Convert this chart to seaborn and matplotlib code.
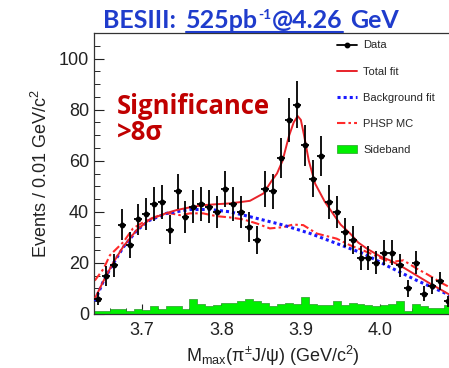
import numpy as np
import pandas as pd
import matplotlib
matplotlib.use("Agg")
import matplotlib.pyplot as plt
import seaborn as sns
from matplotlib.lines import Line2D
from matplotlib.patches import Patch
from matplotlib.ticker import MultipleLocator

# ---------------- data ----------------
bin_lo, bin_w, n_bins = 3.64, 0.01, 45
data_counts = [6, 15, 19, 35, 27, 37, 39, 43, 44, 33, 48, 38, 42, 43, 42, 40, 49, 43,
               40, 34, 29, 49, 48, 61, 76, 82, 66, 53, 62, 44, 40, 32, 29, 22, 22, 20,
               24, 24, 19, 10, 20, 8, 11, 13, 5]
sideband = [1, 1, 2, 2, 1, 2, 1.5, 3, 2, 3, 3, 2, 6, 4, 3, 3.5, 4.5, 4.5, 5, 6, 5, 4.5,
            3, 4, 4.5, 4, 6.5, 4, 3.5, 3.5, 5, 3.5, 4.5, 4, 3.5, 3, 3.5, 4, 5, 1, 4, 3,
            2.5, 2.5, 3.5]

total_x = [3.641, 3.652, 3.664, 3.677, 3.694, 3.710, 3.731, 3.744, 3.761, 3.777, 3.795,
           3.811, 3.836, 3.853, 3.863, 3.870, 3.877, 3.885, 3.891, 3.896, 3.900, 3.904,
           3.910, 3.918, 3.924, 3.930, 3.941, 3.950, 3.962, 3.972, 3.983, 4.000, 4.012,
           4.030, 4.046, 4.062, 4.079, 4.090]
total_y = [6, 13, 20, 26.5, 33, 37, 39.5, 40.7, 41.8, 42.6, 43, 43.3, 44.3, 47.2, 52,
           55, 60, 69.6, 75, 77.5, 76, 70, 60, 51, 47.5, 44, 39, 35, 31.5, 28, 25.6,
           22.5, 21, 18, 15, 12, 9, 7]

bkg_x = [3.641, 3.652, 3.664, 3.677, 3.694, 3.710, 3.731, 3.761, 3.786, 3.811, 3.845,
         3.878, 3.912, 3.945, 3.979, 4.012, 4.046, 4.079, 4.090]
bkg_y = [5, 13, 19.7, 26.2, 32.8, 36.7, 39.4, 40.9, 40.9, 40, 37.4, 34.8, 31.5, 27.6,
         23.6, 18.3, 13.1, 8.5, 7]

phsp_x = [3.641, 3.652, 3.660, 3.677, 3.689, 3.706, 3.723, 3.736, 3.748, 3.761, 3.777,
          3.794, 3.811, 3.828, 3.845, 3.861, 3.878, 3.890, 3.903, 3.920, 3.945, 3.962,
          3.983, 4.012, 4.029, 4.046, 4.058, 4.079, 4.090]
phsp_y = [13.1, 17.7, 23, 28.2, 33.5, 36.7, 38.7, 39.4, 38.7, 39.4, 39.4, 38.3, 37.8,
          37, 35.4, 33.5, 34, 35, 34.8, 31.5, 29.5, 26.9, 24.3, 20.3, 21, 17.7, 15.7,
          11.8, 10]

x_ticks = [3.7, 3.8, 3.9, 4.0]
y_ticks = [0, 20, 40, 60, 80, 100]

# ---------------- figure ----------------
sns.set_theme(style="ticks")
plt.rcParams["font.family"] = ["Liberation Sans", "DejaVu Sans"]
plt.rcParams["mathtext.fontset"] = "custom"
plt.rcParams["mathtext.rm"] = "Liberation Sans"
plt.rcParams["mathtext.it"] = "Liberation Sans:italic"

fig = plt.figure(figsize=(4.49, 3.68), dpi=100)
ax = fig.add_axes([94 / 449, 1 - 314 / 368, 358 / 449, 281 / 368])

centers = bin_lo + bin_w * (np.arange(n_bins) + 0.5)
df = pd.DataFrame({"m": centers, "n": data_counts, "sb": sideband})

sns.histplot(data=df, x="m", weights="sb", binwidth=bin_w,
             binrange=(bin_lo, bin_lo + bin_w * n_bins), element="step", fill=True,
             color="#00f000", alpha=1.0, edgecolor="#2a9a2a", linewidth=0.5, ax=ax,
             zorder=1)

sns.lineplot(x=phsp_x, y=phsp_y, ax=ax, color="#ff2a2a", lw=1.5,
             linestyle=(0, (4, 1.5, 1.2, 1.5)), sort=False, estimator=None, zorder=2)
sns.lineplot(x=bkg_x, y=bkg_y, ax=ax, color="#1a1aff", lw=2.2,
             linestyle=(0, (1, 1)), sort=False, estimator=None, zorder=3)
sns.lineplot(x=total_x, y=total_y, ax=ax, color="#e8232a", lw=1.4,
             sort=False, estimator=None, zorder=4)

ax.errorbar(df["m"], df["n"], xerr=bin_w / 2, yerr=np.sqrt(df["n"]), fmt="o",
            ms=3.2, color="black", elinewidth=1.3, capsize=0, zorder=5)

ax.set_xlim(3.64, 4.09)
ax.set_ylim(0, 110)
ax.set_xticks(x_ticks)
ax.set_xticklabels([f"{v:.1f}" for v in x_ticks])
ax.set_yticks(y_ticks)
ax.xaxis.set_minor_locator(MultipleLocator(0.02))
ax.yaxis.set_minor_locator(MultipleLocator(5))
ax.tick_params(which="major", direction="in", length=7, width=0.8, labelsize=13,
               colors="#222222", top=False, right=False)
ax.tick_params(which="minor", direction="in", length=4, width=0.7, top=False, right=False)
ax.tick_params(axis="x", pad=6)
for s in ax.spines.values():
    s.set_linewidth(0.9)
    s.set_color("#333333")

ax.set_xlabel(r"M$_{\mathrm{max}}$(π$^{\pm}$J/ψ) (GeV/c$^{2}$)", fontsize=13,
              color="#222222", labelpad=3)
ax.set_ylabel(r"Events / 0.01 GeV/c$^{2}$", fontsize=13, color="#222222", labelpad=6)

# significance annotation
ax.text(0.063, 0.785, "Significance\n>8σ", transform=ax.transAxes, fontsize=18.5,
        fontweight="bold", color="#c00000", family=["Open Sans", "DejaVu Sans"],
        va="top", ha="left", linespacing=0.95)

# legend
handles = [
    Line2D([0], [0], color="black", marker="o", ms=3.2, lw=1.3),
    Line2D([0], [0], color="#e8232a", lw=1.4),
    Line2D([0], [0], color="#1a1aff", lw=2.2, linestyle=(0, (1, 1))),
    Line2D([0], [0], color="#ff2a2a", lw=1.5, linestyle=(0, (4, 1.5, 1.2, 1.5))),
    Patch(facecolor="#00f000", edgecolor="#2a9a2a", lw=0.5),
]
labels = ["Data", "Total fit", "Background fit", "PHSP MC", "Sideband"]
fig.legend(handles, labels, loc="upper left", bbox_to_anchor=(333 / 449, 1 - 36 / 368),
           frameon=False, fontsize=8, labelspacing=1.45, handlelength=1.8,
           handletextpad=0.5, borderaxespad=0)

# title with underlined middle part
title_color = "#1f3ccc"
tkw = dict(fontweight="bold", color=title_color,
           family=["Lato", "DejaVu Sans"], va="baseline", ha="left")
fig.canvas.draw()
renderer = fig.canvas.get_renderer()
y_base = 1 - 28 / 368
x0 = 103 / 449
# (text, fontsize, vertical raise in px, underlined, gap after in px)
parts = [("BESIII:", 18, 0, False, 10), ("525pb", 18, 0, True, 0),
         ("-1", 10, 9, True, 1), ("@4.26", 18, 0, True, 7), ("GeV", 18, 0, False, 0)]
xs = x0
ul_start, ul_end = None, None
for txt, fs, raise_px, ul, gap in parts:
    t = fig.text(xs, y_base + raise_px / 368, txt, fontsize=fs, **tkw)
    bb = t.get_window_extent(renderer=renderer).transformed(fig.transFigure.inverted())
    if ul:
        ul_start = bb.x0 if ul_start is None else ul_start
        ul_end = bb.x1
    xs = bb.x1 + gap / 449
fig.add_artist(Line2D([ul_start, ul_end], [y_base - 3.5 / 368, y_base - 3.5 / 368],
                      color=title_color, lw=1.5, transform=fig.transFigure))

fig.savefig("out.png", dpi=100)
